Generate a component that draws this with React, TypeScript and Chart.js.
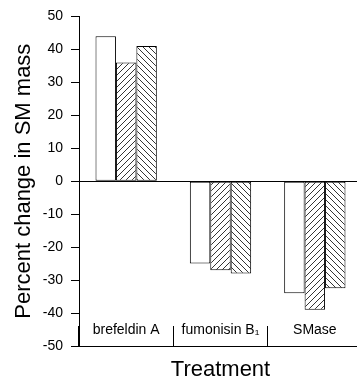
import { useEffect, useRef } from 'react';
import { Chart, registerables } from 'chart.js';

Chart.register(...registerables);

const categories = ['brefeldin A', 'fumonisin B\u2081', 'SMase'];
const openBarValues = [44, -25, -34];
const forwardHatchValues = [36, -27, -39];
const backHatchValues = [41, -28, -32.5];
const yMin = -50;
const yMax = 50;
const yStep = 10;
const yTitle = 'Percent change in SM mass';
const xTitle = 'Treatment';

const FONT = "'Liberation Sans', Arial, Helvetica, sans-serif";

function makeHatch(target: CanvasRenderingContext2D, forward: boolean) {
  const s = 6;
  const c = document.createElement('canvas');
  c.width = s;
  c.height = s;
  const g = c.getContext('2d')!;
  g.fillStyle = '#fff';
  g.fillRect(0, 0, s, s);
  g.strokeStyle = '#000';
  g.lineWidth = 0.8;
  g.beginPath();
  if (forward) {
    g.moveTo(-1, s + 1);
    g.lineTo(s + 1, -1);
    g.moveTo(-1, 1);
    g.lineTo(1, -1);
    g.moveTo(s - 1, s + 1);
    g.lineTo(s + 1, s - 1);
  } else {
    g.moveTo(-1, -1);
    g.lineTo(s + 1, s + 1);
    g.moveTo(s - 1, -1);
    g.lineTo(s + 1, 1);
    g.moveTo(-1, s - 1);
    g.lineTo(1, s + 1);
  }
  g.stroke();
  return target.createPattern(c, 'repeat')!;
}

export default function App() {
  const ref = useRef<HTMLCanvasElement | null>(null);

  useEffect(() => {
    const canvas = ref.current;
    if (!canvas) return;
    const ctx = canvas.getContext('2d')!;
    const fwd = makeHatch(ctx, true);
    const back = makeHatch(ctx, false);

    const common = {
      borderColor: '#000',
      borderWidth: 1,
      borderSkipped: false as const,
      categoryPercentage: 0.65,
      barPercentage: 1.0,
    };

    const chart = new Chart(ctx, {
      type: 'bar',
      data: {
        labels: categories,
        datasets: [
          { label: 'Control', data: openBarValues, backgroundColor: '#fff', ...common },
          { label: 'Series 2', data: forwardHatchValues, backgroundColor: fwd, ...common },
          { label: 'Series 3', data: backHatchValues, backgroundColor: back, ...common },
        ],
      },
      options: {
        responsive: false,
        animation: false,
        devicePixelRatio: 1,
        layout: { padding: { top: 15, right: 0, bottom: 0, left: 0 } },
        plugins: { legend: { display: false }, tooltip: { enabled: false } },
        scales: {
          x: {
            type: 'category',
            offset: true,
            grid: {
              display: true,
              drawOnChartArea: false,
              drawTicks: true,
              tickLength: -20,
              color: '#000',
              lineWidth: 1,
              offset: true,
            },
            border: { display: true, color: '#000', width: 1 },
            ticks: {
              color: '#000',
              font: { family: FONT, size: 14, lineHeight: 1.2 },
              mirror: true,
              padding: 7,
              maxRotation: 0,
              autoSkip: false,
            },
            title: {
              display: true,
              text: xTitle,
              color: '#000',
              font: { family: FONT, size: 22, lineHeight: 1 },
              padding: { top: 0, bottom: 0 },
            },
            afterFit: (s: any) => {
              s.height = 35;
            },
          },
          y: {
            min: yMin,
            max: yMax,
            ticks: {
              stepSize: yStep,
              color: '#000',
              font: { family: FONT, size: 14 },
              padding: 8,
            },
            grid: {
              color: (c: any) => (c.tick && c.tick.value === 0 ? '#000' : 'rgba(0,0,0,0)'),
              tickColor: '#000',
              tickLength: 8,
              drawOnChartArea: true,
              lineWidth: 1,
            },
            border: { display: true, color: '#000', width: 1 },
            title: {
              display: true,
              text: yTitle,
              color: '#000',
              font: { family: FONT, size: 22, lineHeight: 1 },
              padding: { top: 13, bottom: 0 },
            },
            afterFit: (s: any) => {
              s.width = 79;
            },
          },
        },
      },
    });
    return () => chart.destroy();
  }, []);

  return (
    <div
      style={{
        position: 'fixed',
        left: 0,
        top: 0,
        width: 357,
        height: 381,
        overflow: 'hidden',
        background: '#fff',
      }}
    >
      <canvas ref={ref} width={362} height={381} style={{ display: 'block' }} />
    </div>
  );
}
